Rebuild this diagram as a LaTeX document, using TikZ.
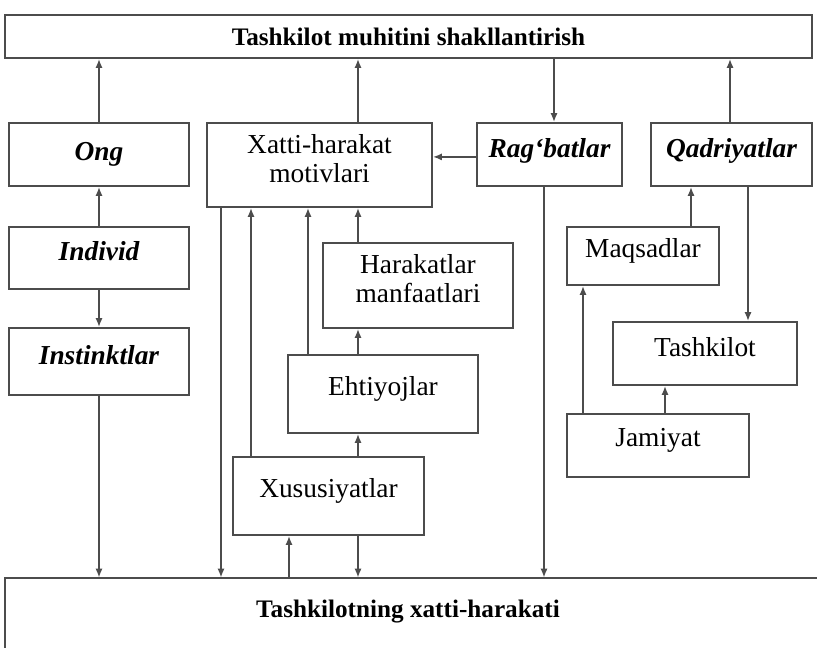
\documentclass[tikz,border=0pt]{standalone}
\usepackage{fontspec}
\setmainfont{Liberation Serif}
\usetikzlibrary{arrows.meta}

\begin{document}
\begin{tikzpicture}[>={Latex[length=4.5pt,width=3.6pt]},x=0.5pt,y=-0.5pt]
  \tikzset{
    frame/.style={draw=black!70,line width=0.9pt},
    link/.style={->,frame},
    box/.style={frame,inner sep=0pt,align=center,
      font=\fontsize{13.7}{14.5}\selectfont},
    plain/.style={box,text height=9pt,text depth=8pt},
    duo/.style={box,text depth=7pt},
    keybox/.style={box,text height=9pt,text depth=6.5pt,
      font=\fontsize{13.7}{14.5}\selectfont\bfseries\itshape},
    bar/.style={inner sep=0pt,font=\fontsize{12.6}{14}\selectfont\bfseries}
  }
  \useasboundingbox (0,0) rectangle (817,647);

  % top and bottom bars
  \node[bar,frame,minimum width=403.5pt,minimum height=21.5pt] (top) at (408.5,36.5)
    {Tashkilot muhitini shakllantirish};
  \node[bar,minimum width=403pt,minimum height=34pt] (bot) at (408,612)
    {Tashkilotning xatti-harakati};
  \draw[frame] ([xshift=12pt]bot.north east) -- (bot.north west) -- ++(0,80);

  % left column
  \node[keybox,text depth=3.5pt,minimum width=90pt,minimum height=31.5pt] (ong) at (99,154.5) {Ong};
  \node[keybox,minimum width=90pt,minimum height=31pt] (indiv) at (99,258) {Individ};
  \node[keybox,minimum width=90pt,minimum height=33.5pt] (inst) at (99,361.5) {Instinktlar};

  % middle
  \node[duo,minimum width=112.5pt,minimum height=42pt] (motiv) at (319.5,165)
    {Xatti-harakat\\motivlari};
  \node[duo,minimum width=95pt,minimum height=42.5pt] (manf) at (418,285.5)
    {Harakatlar\\manfaatlari};
  \node[plain,minimum width=95pt,minimum height=39pt] (ehti) at (383,394) {Ehtiyojlar};
  \node[plain,minimum width=95.5pt,minimum height=39pt] (xus) at (328.5,496) {Xususiyatlar};

  % right side
  \node[keybox,minimum width=72.5pt,minimum height=31.5pt] (rag) at (549.5,154.5) {Rag‘batlar};
  \node[keybox,minimum width=80.5pt,minimum height=31.5pt] (qadr) at (731.5,154.5) {Qadriyatlar};
  \node[plain,minimum width=76pt,minimum height=29pt] (maqs) at (643,256) {Maqsadlar};
  \node[plain,text depth=6pt,minimum width=92pt,minimum height=31.5pt] (tash) at (705,353.5) {Tashkilot};
  \node[plain,minimum width=91pt,minimum height=31.5pt] (jam) at (658,445.5) {Jamiyat};

  % vertical lanes
  \coordinate (la) at (221,0);
  \coordinate (lb) at (251,0);
  \coordinate (lc) at (289,0);
  \coordinate (ld) at (308,0);
  \coordinate (le) at (358,0);
  \coordinate (lf) at (544,0);
  \coordinate (lg) at (554,0);
  \coordinate (lh) at (583,0);
  \coordinate (li) at (665,0);
  \coordinate (lj) at (691,0);
  \coordinate (lk) at (730,0);
  \coordinate (ll) at (748,0);

  \draw[link] (ong.north) -- (ong.north |- top.south);
  \draw[link] (indiv) -- (ong);
  \draw[link] (indiv) -- (inst);
  \draw[link] (inst.south) -- (inst.south |- bot.north);

  \draw[link] (motiv.north -| le) -- (top.south -| le);
  \draw[link] (manf.north -| le) -- (motiv.south -| le);
  \draw[link] (ehti.north -| le) -- (manf.south -| le);
  \draw[link] (xus.north -| le) -- (ehti.south -| le);
  \draw[link] (xus.south -| le) -- (bot.north -| le);
  \draw[link] (motiv.south -| la) -- (bot.north -| la);
  \draw[link] (xus.north -| lb) -- (motiv.south -| lb);
  \draw[link] (bot.north -| lc) -- (xus.south -| lc);
  \draw[link] (ehti.north -| ld) -- (motiv.south -| ld);

  \draw[link] (top.south -| lg) -- (rag.north -| lg);
  \draw[link] ([yshift=-1.2pt]rag.west) -- ([yshift=-1.2pt]rag.west -| motiv.east);
  \draw[link] (rag.south -| lf) -- (bot.north -| lf);

  \draw[link] (qadr.north -| lk) -- (top.south -| lk);
  \draw[link] (qadr.south -| ll) -- (tash.north -| ll);
  \draw[link] (maqs.north -| lj) -- (qadr.south -| lj);
  \draw[link] (jam.north -| lh) -- (maqs.south -| lh);
  \draw[link] (jam.north -| li) -- (tash.south -| li);
\end{tikzpicture}
\end{document}
